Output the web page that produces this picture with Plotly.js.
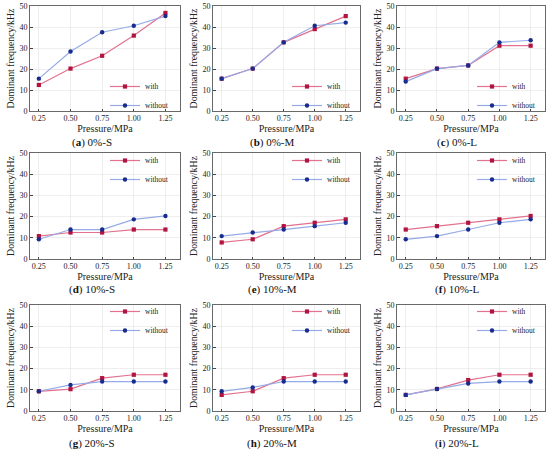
<!DOCTYPE html>
<html>
<head>
<meta charset="utf-8">
<script src="https://cdn.plot.ly/plotly-3.0.1.min.js"></script>
<style>html,body{margin:0;padding:0;background:#fff;}#chart{width:550px;height:455px;}</style>
</head>
<body>
<div id="chart"></div>
<script>
// ---- data ----
const pressure = [0.25, 0.50, 0.75, 1.00, 1.25];
const xTickLabels = ['0.25', '0.50', '0.75', '1.00', '1.25'];
const panelLetters = ['a', 'b', 'c', 'd', 'e', 'f', 'g', 'h', 'i'];
const panelNames = ['0%-S', '0%-M', '0%-L', '10%-S', '10%-M', '10%-L', '20%-S', '20%-M', '20%-L'];
const seriesNames = ['with', 'without'];

const with0S    = [12.4, 20.2, 26.3, 35.9, 46.7];
const without0S = [15.4, 28.3, 37.5, 40.6, 45.2];
const with0M    = [15.4, 20.2, 32.7, 39.0, 45.2];
const without0M = [15.4, 20.2, 32.7, 40.6, 42.1];
const with0L    = [15.4, 20.2, 21.7, 31.1, 31.1];
const without0L = [14.0, 20.2, 21.7, 32.7, 33.7];

const with10S    = [10.8, 12.5, 12.5, 13.9, 13.9];
const without10S = [9.3, 13.9, 13.9, 18.7, 20.3];
const with10M    = [7.8, 9.3, 15.5, 17.1, 18.7];
const without10M = [10.8, 12.5, 13.9, 15.5, 17.1];
const with10L    = [13.9, 15.5, 17.1, 18.7, 20.3];
const without10L = [9.3, 10.8, 13.9, 17.1, 18.7];

const with20S    = [9.3, 10.3, 15.5, 17.1, 17.1];
const without20S = [9.3, 12.3, 13.9, 13.9, 13.9];
const with20M    = [7.6, 9.3, 15.5, 17.1, 17.1];
const without20M = [9.3, 11.1, 13.9, 13.9, 13.9];
const with20L    = [7.6, 10.4, 14.6, 17.1, 17.1];
const without20L = [7.6, 10.4, 13.0, 13.9, 13.9];

const withSeries = [with0S, with0M, with0L, with10S, with10M, with10L, with20S, with20M, with20L];
const withoutSeries = [without0S, without0M, without0L, without10S, without10M, without10L, without20S, without20M, without20L];

// ---- layout geometry ----
const W = 550, H = 455;
const colPx = [[30, 180], [213, 360], [397, 545]];
const rowPx = [[6, 111], [153, 259], [305, 411]];
const captionY = [142, 289, 443];
const subCenter = [92, 272, 457];
const legendCenterY = [96, 170, 321];
const legendRight = [174, 356, 541];

const FONT = "'Liberation Serif', 'Times New Roman', Times, serif";
const withMarker = '#b0143f', withLine = '#e2728e';
const withoutMarker = '#172c8c', withoutLine = '#94abe8';

const traces = [];
const layout = {
  width: W, height: H,
  margin: {l: 0, r: 0, t: 0, b: 0},
  paper_bgcolor: '#ffffff', plot_bgcolor: '#ffffff',
  font: {family: FONT, color: '#222'},
  annotations: []
};

for (let i = 0; i < 9; i++) {
  const r = Math.floor(i / 3), c = i % 3;
  const sfx = i === 0 ? '' : String(i + 1);
  const lg = 'legend' + sfx;
  traces.push({
    x: pressure, y: withSeries[i], name: seriesNames[0],
    type: 'scatter', mode: 'lines+markers',
    xaxis: 'x' + sfx, yaxis: 'y' + sfx, legend: lg,
    line: {color: withLine, width: 1.2},
    marker: {symbol: 'square', size: 4.2, color: withMarker}
  });
  traces.push({
    x: pressure, y: withoutSeries[i], name: seriesNames[1],
    type: 'scatter', mode: 'lines+markers',
    xaxis: 'x' + sfx, yaxis: 'y' + sfx, legend: lg,
    line: {color: withoutLine, width: 1.2},
    marker: {symbol: 'circle', size: 4.4, color: withoutMarker}
  });
  const axCommon = {
    showline: true, mirror: true, linecolor: '#444', linewidth: 0.8,
    showgrid: true, gridcolor: '#e3e3e3', gridwidth: 0.6,
    zeroline: false, ticks: 'inside', ticklen: 2.5, tickcolor: '#444',
    tickfont: {family: FONT, size: 8, color: '#222'}
  };
  layout['xaxis' + sfx] = Object.assign({}, axCommon, {
    domain: [colPx[c][0] / W, colPx[c][1] / W],
    anchor: 'y' + sfx,
    range: [0.18, 1.365],
    tickvals: pressure, ticktext: xTickLabels,
    title: {text: 'Pressure/MPa', font: {family: FONT, size: 10, color: '#222'}, standoff: 2}
  });
  layout['yaxis' + sfx] = Object.assign({}, axCommon, {
    domain: [1 - rowPx[r][1] / H, 1 - rowPx[r][0] / H],
    anchor: 'x' + sfx,
    range: [0, 50], dtick: 10,
    title: {text: 'Dominant frequency/kHz', font: {family: FONT, size: 9.8, color: '#222'}, standoff: 3}
  });
  layout[lg] = {
    x: legendRight[c] / W, xanchor: 'right',
    y: 1 - legendCenterY[r] / H, yanchor: 'middle',
    bgcolor: 'rgba(0,0,0,0)', borderwidth: 0,
    font: {family: FONT, size: 7.5, color: '#222'},
    itemwidth: 30, tracegroupgap: 0
  };
  layout.annotations.push({
    xref: 'paper', yref: 'paper',
    x: subCenter[c] / W, y: 1 - captionY[r] / H,
    xanchor: 'center', yanchor: 'middle', showarrow: false,
    text: '(<b>' + panelLetters[i] + '</b>) ' + panelNames[i],
    font: {family: FONT, size: 11, color: '#111'}
  });
}

Plotly.newPlot('chart', traces, layout, {displayModeBar: false, staticPlot: true});
</script>
</body>
</html>
